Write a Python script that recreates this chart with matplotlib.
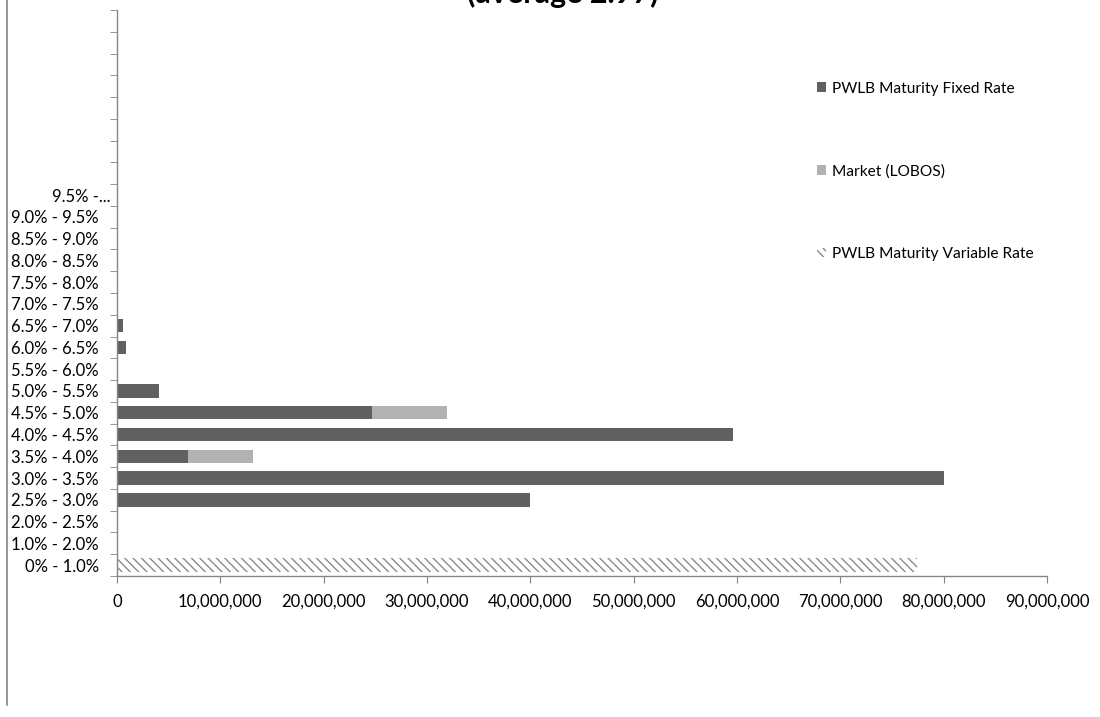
import matplotlib
matplotlib.use("Agg")
import matplotlib.pyplot as plt
from matplotlib.lines import Line2D
from matplotlib.transforms import ScaledTranslation
import numpy as np

plt.rcParams['font.family'] = ['Lato', 'DejaVu Sans']
plt.rcParams['hatch.color'] = '#8a8a8a'
plt.rcParams['hatch.linewidth'] = 1.0

# rate bands, bottom to top; the blank ones are unused slots on the axis
bands = ["0% - 1.0%", "1.0% - 2.0%", "2.0% - 2.5%", "2.5% - 3.0%", "3.0% - 3.5%",
         "3.5% - 4.0%", "4.0% - 4.5%", "4.5% - 5.0%", "5.0% - 5.5%", "5.5% - 6.0%",
         "6.0% - 6.5%", "6.5% - 7.0%", "7.0% - 7.5%", "7.5% - 8.0%", "8.0% - 8.5%",
         "8.5% - 9.0%", "9.0% - 9.5%", "9.5% -...",
         "", "", "", "", "", "", "", ""]

pwlb_fixed = [0, 0, 0, 40.0e6, 80.0e6, 6.9e6, 59.6e6, 24.7e6, 4.1e6, 0,
              0.9e6, 0.6e6, 0, 0, 0, 0, 0, 0]
market_lobos = [0, 0, 0, 0, 0, 6.3e6, 0, 7.2e6, 0, 0,
                0, 0, 0, 0, 0, 0, 0, 0]
pwlb_variable = [77.4e6, 0, 0, 0, 0, 0, 0, 0, 0, 0,
                 0, 0, 0, 0, 0, 0, 0, 0]

x_ticks = np.arange(0, 90e6 + 1, 10e6)

fig = plt.figure(figsize=(11, 7.17), dpi=100)
ax = fig.add_axes([117 / 1100, 1 - 576 / 717, 930 / 1100, 566 / 717])

n = len(pwlb_fixed)
y = np.arange(n)
h = 0.62
ax.barh(y, pwlb_fixed, height=h, color='#606060', linewidth=0,
        label='PWLB Maturity Fixed Rate')
ax.barh(y, market_lobos, left=pwlb_fixed, height=h, color='#b2b2b2', linewidth=0,
        label='Market (LOBOS)')
ax.barh(y, pwlb_variable, height=h, color='white', edgecolor='#8a8a8a',
        hatch='\\\\\\\\', linewidth=0, label='PWLB Maturity Variable Rate')

ax.set_ylim(-0.5, len(bands) - 0.5)
ax.set_xlim(0, 90e6)

# labels centred on each band, tick marks on the band boundaries
ax.set_yticks(np.arange(len(bands)))
ax.set_yticklabels(bands)
ax.set_yticks(np.arange(len(bands) + 1) - 0.5, minor=True)
ax.tick_params(axis='y', which='major', length=0, pad=13, labelsize=12, colors='black')
ax.tick_params(axis='y', which='minor', length=5, color='#868686', direction='out')

# the truncated top label sits a little closer to the axis
top_lbl = ax.get_yticklabels()[17]
top_lbl.set_transform(top_lbl.get_transform() +
                      ScaledTranslation(12 / 100, 0, fig.dpi_scale_trans))

ax.set_xticks(x_ticks)
ax.set_xticklabels(['0'] + ['{:,.0f}'.format(v) for v in x_ticks[1:]])
ax.tick_params(axis='x', length=5, color='#868686', direction='out', pad=8, labelsize=12)

for s in ['top', 'right']:
    ax.spines[s].set_visible(False)
for s in ['left', 'bottom']:
    ax.spines[s].set_color('#868686')
    ax.spines[s].set_linewidth(1.0)

leg = ax.legend(loc='upper left', bbox_to_anchor=(809 / 1100, 1 - 74 / 717),
                bbox_transform=fig.transFigure, frameon=False, fontsize=11.2,
                handlelength=0.6, handleheight=0.6, handletextpad=0.4,
                labelspacing=4.4, borderpad=0)

fig.text(563 / 1100, 1 - 3 / 717, "(average 2.97)", ha='center', va='baseline',
         fontsize=22, fontweight='bold')

# chart area border on the left
fig.add_artist(Line2D([7 / 1100, 7 / 1100], [1, 1 - 705 / 717],
                      transform=fig.transFigure, color='#868686', linewidth=1.2))

fig.savefig('out.png', dpi=100)
